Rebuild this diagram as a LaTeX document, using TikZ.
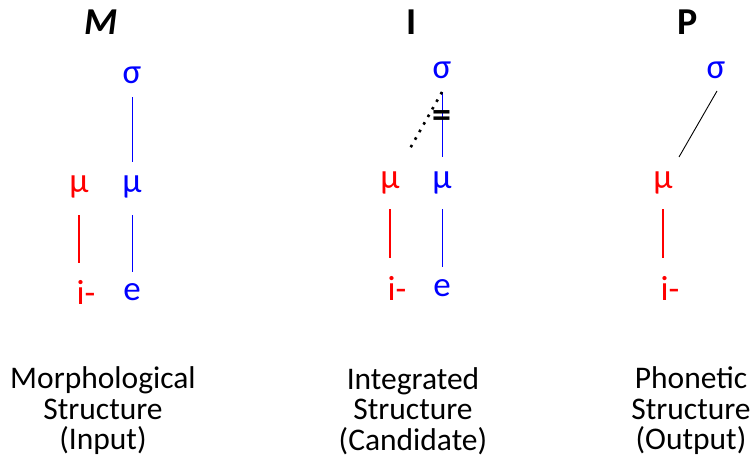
\documentclass[tikz,border=0pt]{standalone}
\usepackage{fontspec}
\setmainfont{Carlito}
\usetikzlibrary{calc}
\begin{document}
\begin{tikzpicture}[x=1pt,y=-1pt,
  sym/.style={inner sep=0pt,font=\fontsize{35}{37}\selectfont},
  ttl/.style={inner sep=0pt,font=\fontsize{38}{40}\selectfont\bfseries},
  lab/.style={inner sep=0pt,align=center,font=\fontsize{31.5}{30.5}\selectfont},
  bl/.style={draw=blue,line width=1pt},
  rd/.style={draw=red,line width=1.3pt},
  dots/.style={line width=2.6pt,dash pattern=on 2.6pt off 6.1pt}]
\useasboundingbox (0,0) rectangle (752,460);
% titles
\node[ttl] (tM) at (101,22) {\itshape M};
\node[ttl] (tI) at (412,22) {I};
\node[ttl] (tP) at (688,22) {P};
% column M
\node[sym,blue] (sM) at (132,75) {σ};
\node[sym,red] (m1M) at (79,187) {μ};
\node[sym,blue] (m2M) at (132,187) {μ};
\node[sym,red] (iM) at (86,292) {i-};
\node[sym,blue] (eM) at (132,292) {e};
\draw[bl,shorten <=22pt,shorten >=25pt] (sM.center) -- (m2M.center);
\draw[rd,shorten <=28pt,shorten >=29pt] (m1M.center) -- (m1M.center |- iM.center);
\draw[bl,shorten <=28pt,shorten >=20pt] (m2M.center) -- (eM.center);
% column I
\node[sym,blue] (sI) at (442,70) {σ};
\node[sym,red] (m1I) at (390,183) {μ};
\node[sym,blue] (m2I) at (442,183) {μ};
\node[sym,red] (iI) at (397,288) {i-};
\node[sym,blue] (eI) at (442,288) {e};
\coordinate (dI) at (408,152);
\draw[bl,shorten <=22pt,shorten >=26pt] (sI.center) -- (m2I.center);
\draw[dots] ($(sI.center)+(0,22)$) -- (dI);
\node[inner sep=0pt,font=\fontsize{38}{40}\selectfont\bfseries] (eq) at (442,119) {=};
\draw[rd,shorten <=26pt,shorten >=30pt] (m1I.center) -- (m1I.center |- iI.center);
\draw[bl,shorten <=26pt,shorten >=21pt] (m2I.center) -- (eI.center);
% column P
\node[sym,blue] (sP) at (716,70) {σ};
\node[sym,red] (m1P) at (663,183) {μ};
\node[sym,red] (iP) at (670,288) {i-};
\draw[line width=0.9pt] ($(sP.center)+(1,21)$) -- ($(m1P.center)+(16,-26)$);
\draw[rd,shorten <=26pt,shorten >=30pt] (m1P.center) -- (m1P.center |- iP.center);
% labels
\node[lab] (lM) at (103,411) {Morphological\\Structure\\(Input)};
\node[lab] (lI) at (413,411) {Integrated\\Structure\\(Candidate)};
\node[lab] (lP) at (691,411) {Phonetic\\Structure\\(Output)};
\end{tikzpicture}
\end{document}
